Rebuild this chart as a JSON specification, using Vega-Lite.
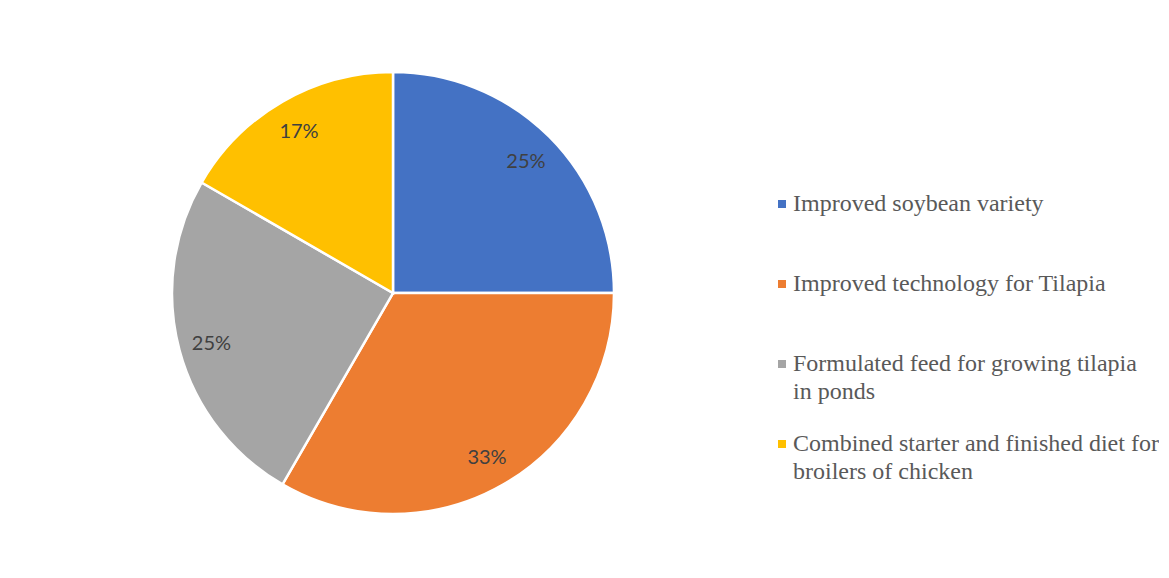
{
  "$schema": "https://vega.github.io/schema/vega-lite/v6.json",
  "width": 786,
  "height": 586,
  "autosize": "pad",
  "padding": 0,
  "background": "white",
  "config": {
    "view": {"stroke": null},
    "style": {"guide-label": {"lineHeight": 28}}
  },
  "data": {
    "values": [
      {"category": "Improved soybean variety", "count": 3, "label": "25%", "order": 1},
      {"category": "Improved technology for Tilapia", "count": 4, "label": "33%", "order": 2},
      {"category": "Formulated feed for growing tilapia in ponds", "count": 3, "label": "25%", "order": 3},
      {"category": "Combined starter and finished diet for broilers of chicken", "count": 2, "label": "17%", "order": 4}
    ]
  },
  "encoding": {
    "theta": {"field": "count", "type": "quantitative", "stack": true},
    "order": {"field": "order", "type": "quantitative"},
    "color": {
      "field": "category",
      "type": "nominal",
      "sort": ["Improved soybean variety", "Improved technology for Tilapia", "Formulated feed for growing tilapia in ponds", "Combined starter and finished diet for broilers of chicken"],
      "scale": {
        "domain": ["Improved soybean variety", "Improved technology for Tilapia", "Formulated feed for growing tilapia in ponds", "Combined starter and finished diet for broilers of chicken"],
        "range": ["#4472C4", "#ED7D31", "#A5A5A5", "#FFC000"]
      },
      "legend": {
        "title": null,
        "orient": "none",
        "legendX": 770,
        "legendY": 192,
        "symbolType": "square",
        "symbolSize": 64,
        "symbolStrokeWidth": 0,
        "labelFont": "Liberation Serif",
        "labelFontSize": 24,
        "labelColor": "#595959",
        "labelLimit": 420,
        "labelOffset": -1,
        "rowPadding": 28,
        "labelExpr": "datum.label == 'Formulated feed for growing tilapia in ponds' ? ['Formulated feed for growing tilapia', 'in ponds'] : datum.label == 'Combined starter and finished diet for broilers of chicken' ? ['Combined starter and finished diet for', 'broilers of chicken'] : [datum.label, ' ']"
      }
    }
  },
  "layer": [
    {
      "mark": {"type": "arc", "outerRadius": 221, "stroke": "white", "strokeWidth": 2.5}
    },
    {
      "mark": {"type": "text", "radius": 188, "dy": 2, "font": "Lato", "fontSize": 20},
      "encoding": {
        "text": {"field": "label"},
        "color": {"value": "#404040"}
      }
    }
  ]
}
